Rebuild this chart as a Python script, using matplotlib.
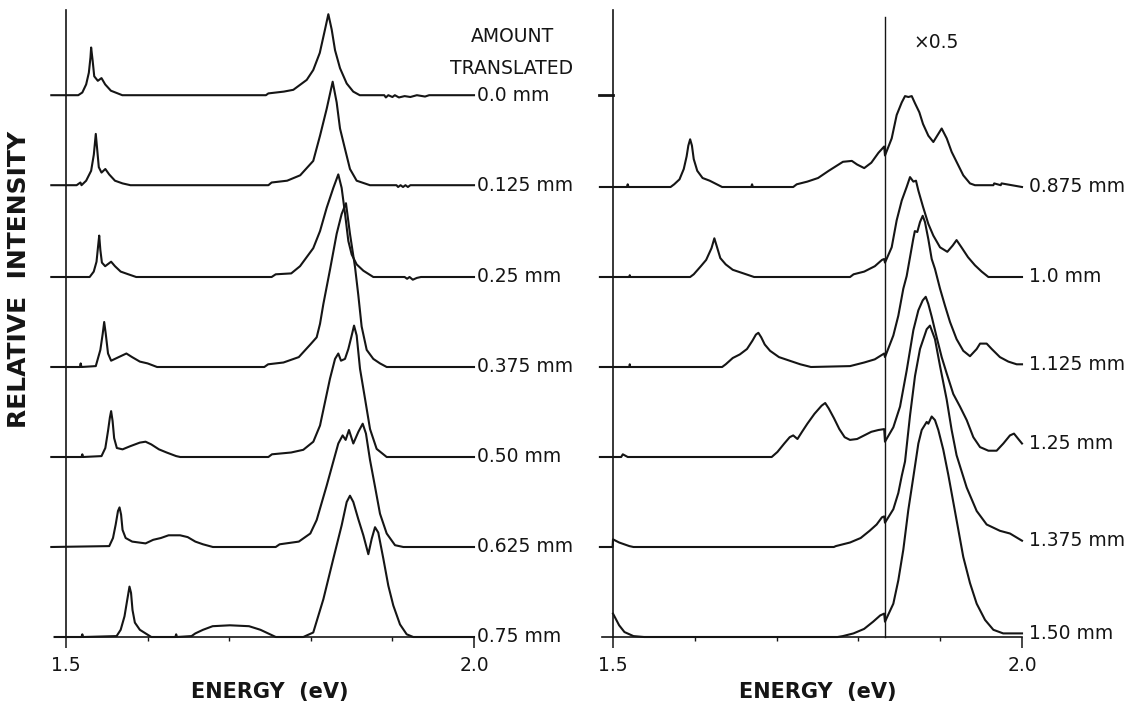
import numpy as np
import matplotlib
matplotlib.use('Agg')
import matplotlib.pyplot as plt

plt.rcParams['font.family'] = ['DejaVu Sans']

W, H = 1137, 706
INK = '#151515'

# ==========================================
# spectra, left panel (0.0 - 0.75 mm)
# energy in eV, intensity in units of the trace spacing
# ==========================================
E_000 = [1.482, 1.515, 1.520, 1.5247, 1.528, 1.530, 1.5308, 1.5327, 1.5346, 1.539, 1.5435, 1.548, 1.555, 1.569,
         1.745, 1.748, 1.767, 1.7786, 1.795, 1.803, 1.811, 1.8174, 1.8215, 1.8256, 1.8297, 1.8358, 1.844, 1.852,
         1.860, 1.890, 1.892, 1.895, 1.900, 1.903, 1.908, 1.915, 1.922, 1.930, 1.940, 1.945, 2.0]
I_000 = [0, 0, 0.03, 0.12, 0.25, 0.42, 0.53, 0.38, 0.21, 0.16, 0.19, 0.12, 0.05, 0,
         0, 0.02, 0.04, 0.06, 0.17, 0.28, 0.47, 0.73, 0.90, 0.73, 0.50, 0.30, 0.13, 0.04,
         0, 0, -0.025, 0, -0.02, 0, -0.025, -0.01, -0.02, 0, -0.015, 0, 0]

E_0125 = [1.482, 1.513, 1.5177, 1.519, 1.5247, 1.5308, 1.5341, 1.5365, 1.5384, 1.5402, 1.5435, 1.5482, 1.5529,
          1.560, 1.5693, 1.579, 1.748, 1.752, 1.771, 1.787, 1.803, 1.8113, 1.8195, 1.8268, 1.8317, 1.8358,
          1.842, 1.848, 1.8562, 1.8725, 1.905, 1.907, 1.910, 1.913, 1.916, 1.919, 1.922, 2.0]
I_0125 = [0, 0, 0.03, 0, 0.05, 0.16, 0.34, 0.57, 0.38, 0.20, 0.14, 0.18, 0.12,
          0.05, 0.02, 0, 0, 0.03, 0.05, 0.11, 0.27, 0.55, 0.85, 1.15, 0.92, 0.63,
          0.40, 0.18, 0.05, 0, 0, -0.02, 0, -0.02, 0, -0.02, 0, 0]

E_025 = [1.482, 1.529, 1.534, 1.5374, 1.5393, 1.5407, 1.5421, 1.544, 1.548, 1.5553, 1.560, 1.567, 1.5764, 1.586,
         1.752, 1.757, 1.776, 1.7868, 1.803, 1.8113, 1.8195, 1.8276, 1.8337, 1.8378, 1.842, 1.846, 1.8501,
         1.8562, 1.8644, 1.8766, 1.915, 1.918, 1.921, 1.925, 1.930, 1.935, 2.0]
I_025 = [0, 0, 0.06, 0.17, 0.34, 0.46, 0.30, 0.16, 0.12, 0.17, 0.12, 0.06, 0.03, 0,
         0, 0.03, 0.04, 0.12, 0.32, 0.51, 0.77, 0.99, 1.14, 0.99, 0.70, 0.40, 0.25,
         0.14, 0.07, 0, 0, -0.02, 0, -0.03, -0.01, 0, 0]

E_0375 = [1.482, 1.517, 1.518, 1.519, 1.5365, 1.5421, 1.545, 1.5468, 1.5487, 1.5515, 1.5553, 1.5646, 1.574,
          1.581, 1.5905, 1.600, 1.6116, 1.743, 1.7477, 1.7665, 1.7853, 1.7994, 1.8072, 1.8113, 1.8154, 1.8235,
          1.8317, 1.8378, 1.8431, 1.848, 1.8542, 1.8582, 1.8623, 1.8685, 1.8766, 1.8848, 1.893, 2.0]
I_0375 = [0, 0, 0.04, 0, 0.01, 0.19, 0.37, 0.50, 0.37, 0.15, 0.07, 0.11, 0.15,
          0.11, 0.06, 0.04, 0, 0, 0.03, 0.05, 0.11, 0.25, 0.33, 0.48, 0.70, 1.08,
          1.48, 1.70, 1.82, 1.48, 1.11, 0.80, 0.45, 0.19, 0.09, 0.04, 0, 0]

E_050 = [1.482, 1.519, 1.520, 1.521, 1.5435, 1.5482, 1.5515, 1.5538, 1.5553, 1.5571, 1.559, 1.5623, 1.5693,
         1.5787, 1.5905, 1.5975, 1.6045, 1.6139, 1.6233, 1.635, 1.640, 1.748, 1.7524, 1.7759, 1.7908, 1.8031,
         1.8113, 1.8174, 1.8235, 1.8297, 1.8337, 1.837, 1.8419, 1.846, 1.8501, 1.853, 1.8562, 1.8603, 1.8664,
         1.8726, 1.8807, 1.893, 2.0]
I_050 = [0, 0, 0.03, 0, 0.01, 0.10, 0.29, 0.44, 0.51, 0.40, 0.21, 0.10, 0.085,
         0.12, 0.16, 0.17, 0.14, 0.085, 0.05, 0.01, 0, 0, 0.03, 0.05, 0.08, 0.17,
         0.35, 0.61, 0.87, 1.09, 1.15, 1.07, 1.09, 1.20, 1.35, 1.46, 1.35, 0.98, 0.65,
         0.31, 0.09, 0, 0]

E_0625 = [1.482, 1.553, 1.5576, 1.5609, 1.5637, 1.5656, 1.5675, 1.5693, 1.5731, 1.5811, 1.5975, 1.6069, 1.6163,
          1.6257, 1.6398, 1.6491, 1.6585, 1.6679, 1.680, 1.757, 1.7618, 1.7853, 1.7994, 1.8072, 1.8194, 1.8276,
          1.8337, 1.839, 1.8427, 1.8468, 1.8521, 1.8583, 1.8636, 1.8676, 1.8725, 1.8787, 1.8848, 1.893, 1.9032,
          1.9134, 2.0]
I_0625 = [0, 0.01, 0.10, 0.25, 0.40, 0.44, 0.36, 0.19, 0.10, 0.06, 0.04, 0.08, 0.10,
          0.13, 0.13, 0.11, 0.06, 0.03, 0, 0, 0.03, 0.06, 0.15, 0.30, 0.68, 0.95,
          1.15, 1.24, 1.19, 1.30, 1.15, 1.28, 1.37, 1.26, 0.97, 0.67, 0.37, 0.15, 0.02,
          0, 0]

E_075 = [1.486, 1.519, 1.520, 1.521, 1.562, 1.567, 1.5717, 1.575, 1.5778, 1.5797, 1.5815, 1.5844, 1.5905, 1.5975,
         1.6046, 1.634, 1.635, 1.636, 1.6538, 1.6585, 1.6679, 1.6797, 1.7008, 1.7243, 1.7383, 1.7477, 1.7571,
         1.7908, 1.803, 1.8154, 1.8276, 1.8378, 1.844, 1.848, 1.8521, 1.8582, 1.8644, 1.8705, 1.8746, 1.8787,
         1.8827, 1.8889, 1.895, 1.9011, 1.9093, 1.9175, 1.9256, 2.0]
I_075 = [0, 0, 0.03, 0, 0.01, 0.08, 0.23, 0.41, 0.56, 0.49, 0.30, 0.16, 0.08, 0.04,
         0, 0, 0.03, 0, 0.01, 0.04, 0.08, 0.12, 0.13, 0.12, 0.08, 0.04, 0,
         0, 0.05, 0.42, 0.87, 1.24, 1.50, 1.57, 1.50, 1.31, 1.13, 0.92, 1.09, 1.22,
         1.16, 0.87, 0.57, 0.35, 0.14, 0.03, 0, 0]

# ==========================================
# spectra, right panel (0.875 - 1.50 mm), x0.5 above X_HALF
# ==========================================
E_0875 = [1.484, 1.517, 1.518, 1.519, 1.5704, 1.5748, 1.5813, 1.5865, 1.590, 1.5921, 1.5943, 1.5965, 1.5987,
          1.603, 1.6095, 1.6182, 1.6269, 1.6334, 1.669, 1.670, 1.671, 1.7203, 1.7246, 1.7376, 1.7507, 1.7637,
          1.7724, 1.7811, 1.792, 1.7984, 1.8071, 1.8158, 1.8245, 1.8315, 1.8325, 1.8407, 1.8468, 1.853, 1.857,
          1.8611, 1.8652, 1.8692, 1.8745, 1.879, 1.8855, 1.8916, 1.8977, 1.9018, 1.908, 1.914, 1.920, 1.9282,
          1.9364, 1.9425, 1.9568, 1.965, 1.966, 1.974, 1.975, 2.0]
I_0875 = [0, 0, 0.03, 0, 0, 0.03, 0.085, 0.20, 0.34, 0.46, 0.53, 0.46, 0.31,
          0.18, 0.10, 0.07, 0.03, 0, 0, 0.03, 0, 0, 0.03, 0.06, 0.10, 0.18,
          0.23, 0.28, 0.29, 0.25, 0.21, 0.27, 0.38, 0.45, 0.35, 0.54, 0.80, 0.94, 1.01,
          1.0, 1.01, 0.93, 0.83, 0.70, 0.57, 0.50, 0.59, 0.65, 0.54, 0.39, 0.28, 0.13,
          0.04, 0.02, 0.02, 0.02, 0.04, 0.02, 0.04, 0]

E_100 = [1.484, 1.520, 1.5205, 1.521, 1.5943, 1.5987, 1.6074, 1.6139, 1.6204, 1.6239, 1.6269, 1.6312, 1.6378,
         1.6464, 1.6595, 1.6725, 1.7898, 1.7941, 1.8071, 1.8201, 1.8288, 1.8315, 1.8325, 1.8407, 1.8468, 1.853,
         1.859, 1.8631, 1.8672, 1.8704, 1.8733, 1.879, 1.8855, 1.8916, 1.8998, 1.9087, 1.9153, 1.920, 1.926,
         1.934, 1.9425, 1.9507, 1.9589, 2.0]
I_100 = [0, 0, 0.02, 0, 0, 0.03, 0.12, 0.19, 0.32, 0.43, 0.34, 0.21, 0.14,
         0.08, 0.04, 0, 0, 0.03, 0.06, 0.12, 0.19, 0.20, 0.16, 0.33, 0.63, 0.85,
         1.0, 1.11, 1.06, 1.07, 0.96, 0.78, 0.59, 0.46, 0.33, 0.28, 0.35, 0.41, 0.33,
         0.22, 0.13, 0.06, 0, 0]

E_1125 = [1.484, 1.520, 1.5205, 1.521, 1.6334, 1.6378, 1.6464, 1.6551, 1.6638, 1.6703, 1.6747, 1.6777, 1.6812,
          1.6855, 1.692, 1.7029, 1.7159, 1.729, 1.742, 1.7898, 1.8071, 1.82, 1.8315, 1.8325, 1.8427, 1.8488,
          1.8549, 1.859, 1.867, 1.869, 1.872, 1.8753, 1.8786, 1.8814, 1.8855, 1.8896, 1.8936, 1.8998, 1.9059,
          1.912, 1.920, 1.9282, 1.9364, 1.9446, 1.9487, 1.9568, 1.963, 1.973, 1.9833, 1.9935, 2.0]
I_1125 = [0, 0, 0.03, 0, 0, 0.03, 0.10, 0.14, 0.20, 0.29, 0.36, 0.38, 0.33,
          0.25, 0.18, 0.11, 0.07, 0.03, 0, 0.01, 0.05, 0.085, 0.15, 0.11, 0.35, 0.57,
          0.87, 1.01, 1.42, 1.51, 1.50, 1.61, 1.68, 1.61, 1.42, 1.20, 1.09, 0.87, 0.68,
          0.50, 0.31, 0.18, 0.12, 0.20, 0.26, 0.26, 0.20, 0.11, 0.06, 0.03, 0.03]

E_125 = [1.484, 1.510, 1.512, 1.516, 1.518, 1.694, 1.701, 1.7094, 1.716, 1.7203, 1.7255, 1.7311, 1.7376, 1.7463,
         1.755, 1.7594, 1.7637, 1.7702, 1.7767, 1.7832, 1.7897, 1.7984, 1.8071, 1.8158, 1.8245, 1.8315, 1.8325,
         1.8427, 1.8509, 1.859, 1.8672, 1.8733, 1.8786, 1.8823, 1.8855, 1.8896, 1.8957, 1.9018, 1.9079, 1.916,
         1.9242, 1.9324, 1.9405, 1.9487, 1.9589, 1.969, 1.9772, 1.9853, 1.9902, 1.9955, 2.0]
I_125 = [0, 0, 0.03, 0.01, 0, 0, 0.056, 0.15, 0.22, 0.24, 0.20, 0.28, 0.37, 0.48,
         0.57, 0.60, 0.54, 0.43, 0.31, 0.22, 0.19, 0.20, 0.24, 0.28, 0.30, 0.31, 0.17,
         0.33, 0.56, 0.96, 1.41, 1.63, 1.74, 1.78, 1.70, 1.56, 1.33, 1.11, 0.93, 0.70,
         0.56, 0.41, 0.22, 0.11, 0.07, 0.07, 0.15, 0.24, 0.26, 0.20, 0.15]

E_1375 = [1.484, 1.4995, 1.500, 1.5075, 1.520, 1.525, 1.770, 1.7724, 1.7898, 1.8028, 1.8137, 1.8223, 1.8288,
          1.8315, 1.8325, 1.8427, 1.8488, 1.853, 1.857, 1.8631, 1.8692, 1.8753, 1.8835, 1.8875, 1.8936, 1.8998,
          1.9079, 1.914, 1.920, 1.9324, 1.9446, 1.9568, 1.973, 1.9853, 2.0]
I_1375 = [0, 0, 0.085, 0.05, 0.01, 0, 0, 0.01, 0.05, 0.10, 0.18, 0.25, 0.33,
          0.34, 0.27, 0.42, 0.60, 0.79, 0.95, 1.46, 1.90, 2.20, 2.42, 2.46, 2.31, 2.01,
          1.64, 1.30, 1.02, 0.66, 0.40, 0.25, 0.18, 0.15, 0.07]

E_150 = [1.500, 1.5075, 1.514, 1.525, 1.538, 1.7745, 1.781, 1.794, 1.807, 1.818, 1.8267, 1.8315, 1.8325, 1.8427,
         1.8488, 1.8549, 1.861, 1.8672, 1.8733, 1.8774, 1.8835, 1.8855, 1.8896, 1.8936, 1.8977, 1.9038, 1.90995,
         1.920, 1.9282, 1.9364, 1.9446, 1.9548, 1.965, 1.977, 2.0]
I_150 = [0.26, 0.13, 0.055, 0.01, 0, 0, 0.01, 0.04, 0.09, 0.17, 0.24, 0.26, 0.17, 0.37,
         0.63, 0.97, 1.41, 1.78, 2.15, 2.30, 2.39, 2.37, 2.45, 2.41, 2.30, 2.08, 1.80,
         1.30, 0.89, 0.60, 0.37, 0.19, 0.08, 0.04, 0.04]

LEFT_SPECTRA = [(E_000, I_000), (E_0125, I_0125), (E_025, I_025), (E_0375, I_0375),
                (E_050, I_050), (E_0625, I_0625), (E_075, I_075)]
LEFT_LABELS = ['0.0 mm', '0.125 mm', '0.25 mm', '0.375 mm', '0.50 mm', '0.625 mm', '0.75 mm']
LEFT_OFFSETS = [6.02, 5.02, 4.0, 3.0, 2.0, 1.0, 0.0]

RIGHT_SPECTRA = [(E_0875, I_0875), (E_100, I_100), (E_1125, I_1125),
                 (E_125, I_125), (E_1375, I_1375), (E_150, I_150)]
RIGHT_LABELS = ['0.875 mm', '1.0 mm', '1.125 mm', '1.25 mm', '1.375 mm', '1.50 mm']
RIGHT_OFFSETS = [5.0, 4.0, 3.0, 2.0, 1.0, 0.0]

X_HALF = 1.832      # right-hand spectra are scaled by 0.5 above this energy


def fig_xy(x, y):
    # pixel position (from top-left) -> figure fraction
    return x / W, 1 - y / H


def setup_panel(ax):
    ax.set_xlim(1.5, 2.0)
    ax.set_ylim(0, 7.0)
    for s in ax.spines.values():
        s.set_visible(False)
    ax.set_yticks([])
    ax.set_xticks([1.5, 2.0])
    ax.set_xticklabels(['1.5', '2.0'])
    ax.set_xticks([1.6, 1.7, 1.8, 1.9], minor=True)
    ax.tick_params(axis='x', which='major', direction='out', length=8, width=1.1,
                   color=INK, pad=6, labelsize=13.5, labelcolor=INK)
    ax.tick_params(axis='x', which='minor', direction='out', length=3, width=1.0, color=INK)
    # frame: energy axis and the 1.5 eV line
    ax.plot([1.486, 2.0], [0, 0], color=INK, lw=1.2, clip_on=False)
    ax.plot([1.5, 1.5], [0, 6.97], color=INK, lw=1.2, clip_on=False)
    ax.set_xlabel('ENERGY  (eV)', fontsize=15, fontweight='bold', color=INK, labelpad=5)


def draw_spectra(ax, spectra, offsets, labels, label_x):
    for (e, i), off, lab in zip(spectra, offsets, labels):
        y = np.asarray(i) + off
        ax.plot(e, y, color=INK, lw=1.5, solid_joinstyle='round', clip_on=False)
        ax.text(label_x, y[-1], lab, ha='left', va='center', fontsize=13.5, color=INK)


fig = plt.figure(figsize=(W / 100, H / 100), dpi=100)
fig.patch.set_facecolor('white')

ax1 = fig.add_axes([66 / W, 69 / H, 408 / W, 630 / H])
ax2 = fig.add_axes([613 / W, 69 / H, 409 / W, 630 / H])

setup_panel(ax1)
setup_panel(ax2)

draw_spectra(ax1, LEFT_SPECTRA, LEFT_OFFSETS, LEFT_LABELS, 2.004)
draw_spectra(ax2, RIGHT_SPECTRA, RIGHT_OFFSETS, RIGHT_LABELS, 2.009)

# scale change marker and the stray baseline tick on the right panel
ax2.plot([X_HALF, X_HALF], [0, 6.89], color=INK, lw=1.0, clip_on=False)
ax2.plot([1.483, 1.5], [6.02, 6.02], color=INK, lw=2.0, clip_on=False)
ax2.text(1.8675, 6.6, '\u00d70.5', ha='left', va='center', fontsize=13.5, color=INK)

fig.text(*fig_xy(512, 37), 'AMOUNT', ha='center', va='center', fontsize=13.5, color=INK)
fig.text(*fig_xy(512, 68), 'TRANSLATED', ha='center', va='center', fontsize=13.5, color=INK)
fig.text(*fig_xy(19, 279), 'RELATIVE  INTENSITY', ha='center', va='center', rotation=90,
         fontsize=18, fontweight='bold', color=INK)

fig.savefig('out.png', dpi=100, facecolor='white')
